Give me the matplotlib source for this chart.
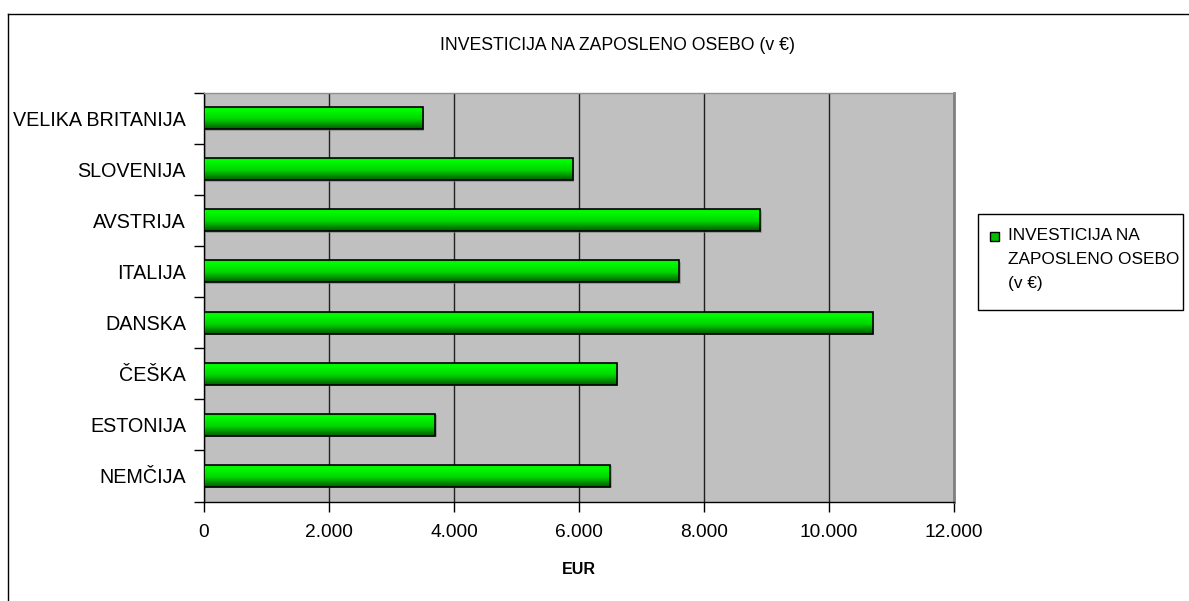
#!/usr/bin/env python
# -*- coding: utf-8 -*-

import numpy as np
import matplotlib
matplotlib.use('Agg')
import matplotlib.pyplot as plt
from matplotlib.colors import LinearSegmentedColormap
from matplotlib.patches import Rectangle
from matplotlib.lines import Line2D
from matplotlib.transforms import ScaledTranslation

plt.rcParams['font.family'] = ['Liberation Sans', 'DejaVu Sans']

countries = ['NEMČIJA', 'ESTONIJA', 'ČEŠKA', 'DANSKA',
             'ITALIJA', 'AVSTRIJA', 'SLOVENIJA', 'VELIKA BRITANIJA']
investment = [6500, 3700, 6600, 10700, 7600, 8900, 5900, 3500]
xticks = [0, 2000, 4000, 6000, 8000, 10000, 12000]
xtick_labels = ['0', '2.000', '4.000', '6.000', '8.000', '10.000', '12.000']
series_name = 'INVESTICIJA NA ZAPOSLENO OSEBO (v €)'
legend_label = 'INVESTICIJA NA\nZAPOSLENO OSEBO\n(v €)'

W, H = 1189, 601
fig = plt.figure(figsize=(W / 100, H / 100), dpi=100)
ax = fig.add_axes([204 / W, 1 - 501.5 / H, 750 / W, 409 / H])
ax.set_facecolor('#c0c0c0')

# vertical gradient used for the bar faces (top bright, bottom dark)
green = LinearSegmentedColormap.from_list(
    'bar', [(0.0, '#00e400'), (0.1, '#00ff00'), (0.55, '#00d400'), (1.0, '#005c00')])
grad = np.linspace(0, 1, 64).reshape(-1, 1)

ypos = np.arange(len(countries))
bars = ax.barh(ypos, investment, height=0.43, facecolor='none',
               edgecolor='black', linewidth=1.2, zorder=4)
shift = ax.transData + ScaledTranslation(1.5 / 100, -1.5 / 100, fig.dpi_scale_trans)
for b in bars:
    x0, y0 = b.get_x(), b.get_y()
    w, h = b.get_width(), b.get_height()
    shadow = Rectangle((x0, y0), w, h, facecolor='#808080', edgecolor='none',
                       zorder=2, alpha=0.6, transform=shift)
    ax.add_patch(shadow)
    im = ax.imshow(grad, cmap=green, aspect='auto', extent=(x0, x0 + w, y0, y0 + h),
                   origin='upper', zorder=3, interpolation='bilinear')
    im.set_clip_path(b)

ax.set_xlim(0, 12000)
ax.set_ylim(-0.5, len(countries) - 0.5)

ax.set_xticks(xticks)
ax.set_xticklabels(xtick_labels, fontsize=13.8)
ax.set_yticks(ypos)
ax.set_yticklabels(countries, fontsize=14.2)
ax.set_yticks(np.arange(-0.5, len(countries)), minor=True)
ax.tick_params(axis='y', which='major', length=0, pad=13)
ax.tick_params(axis='y', which='minor', length=7, width=1, direction='out', color='black')
ax.tick_params(axis='x', which='major', length=7, width=1, direction='out', pad=9)

ax.grid(True, axis='x', color='#202020', linewidth=1)
ax.set_axisbelow(True)

ax.spines['top'].set_color('#909090')
ax.spines['top'].set_linewidth(1)
ax.spines['right'].set_color('#808080')
ax.spines['right'].set_linewidth(2)
for s in ['left', 'bottom']:
    ax.spines[s].set_color('black')
    ax.spines[s].set_linewidth(1)

ax.set_xlabel('EUR', fontsize=11.5, fontweight='bold', labelpad=15)
fig.text(617 / W, 1 - 45 / H, series_name, fontsize=12.7, ha='center', va='center')

# legend box
fig.add_artist(Rectangle((978 / W, 1 - 310 / H), 205 / W, 96 / H, transform=fig.transFigure,
                         facecolor='white', edgecolor='black', linewidth=1))
fig.add_artist(Rectangle((990 / W, 1 - 241 / H), 9 / W, 9 / H, transform=fig.transFigure,
                         facecolor='#00c000', edgecolor='black', linewidth=1))
fig.text(1008 / W, 1 - 228 / H, legend_label, fontsize=12.4, ha='left', va='top',
         linespacing=1.75)

# outer chart frame
fig.add_artist(Line2D([7.5 / W, 7.5 / W], [0, 1 - 13.5 / H], transform=fig.transFigure,
                      color='black', linewidth=1))
fig.add_artist(Line2D([7.5 / W, 1], [1 - 13.5 / H, 1 - 13.5 / H], transform=fig.transFigure,
                      color='black', linewidth=1))

fig.savefig('out.png', dpi=100)
